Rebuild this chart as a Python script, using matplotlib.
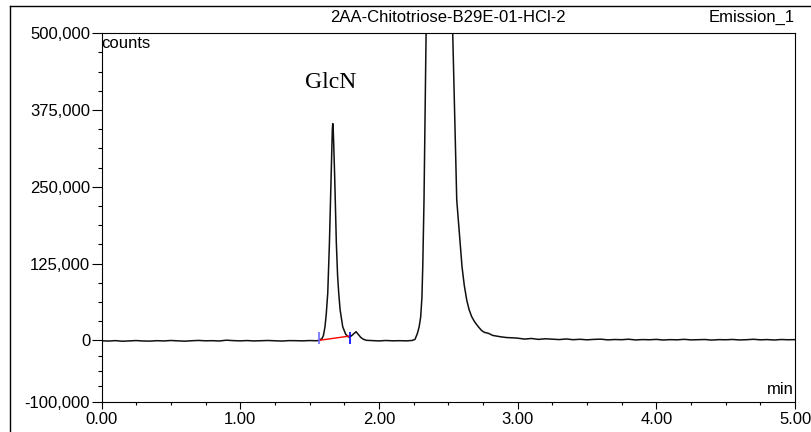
import matplotlib
matplotlib.use("Agg")
import matplotlib.pyplot as plt
from matplotlib.lines import Line2D
from matplotlib.ticker import FuncFormatter, FixedLocator

# chromatogram trace (time in min, signal in counts)
baseline_left_t = [0.00, 0.05, 0.10, 0.15, 0.20, 0.25, 0.30, 0.35, 0.40, 0.45,
                   0.50, 0.55, 0.60, 0.65, 0.70, 0.75, 0.80, 0.85, 0.90, 0.95,
                   1.00, 1.05, 1.10, 1.15, 1.20, 1.25, 1.30, 1.35, 1.40, 1.45,
                   1.50, 1.55]
baseline_left_y = [-800, -1200, -500, -1500, -900, -400, -1100, -1300, -600, -1000,
                   -300, -900, -1400, -700, -200, -800, -600, -1100, 200, -500,
                   -900, -400, -1000, -700, -300, -800, -1200, -500, -600, -900,
                   -400, -700]

glcn_t = [1.57, 1.59, 1.60, 1.611, 1.62, 1.631, 1.643, 1.655, 1.660, 1.664,
          1.667, 1.670, 1.674, 1.681, 1.693, 1.702, 1.710, 1.72, 1.739, 1.76,
          1.78, 1.80, 1.82, 1.835, 1.85, 1.87, 1.89, 1.91]
glcn_y = [0, 3000, 8000, 22000, 42000, 77000, 158000, 266000, 315000, 343000,
          353000, 345000, 320000, 266000, 158000, 105000, 77000, 50000, 22000, 10000,
          5500, 7000, 11000, 14000, 10000, 4500, 1500, 0]

middle_t = [1.95, 2.00, 2.05, 2.10, 2.15, 2.20, 2.24]
middle_y = [-500, -1000, -300, -800, -600, -900, -200]

big_t = [2.26, 2.277, 2.29, 2.301, 2.31, 2.316, 2.325, 2.34, 2.36, 2.43,
         2.50, 2.532, 2.561, 2.58, 2.599, 2.615, 2.633, 2.65, 2.669, 2.69,
         2.717, 2.74, 2.76, 2.789, 2.82, 2.873, 2.92, 2.97]
big_y = [1500, 11000, 22000, 38000, 70000, 120000, 228500, 500000, 1000000, 1600000,
         1000000, 500000, 228500, 174000, 120000, 90000, 65600, 50000, 38400, 30000,
         22000, 16000, 13000, 11400, 8000, 5900, 4500, 4000]

baseline_right_t = [3.00, 3.05, 3.10, 3.15, 3.20, 3.25, 3.30, 3.35, 3.40, 3.45,
                    3.50, 3.55, 3.60, 3.65, 3.70, 3.75, 3.80, 3.85, 3.90, 3.95,
                    4.00, 4.05, 4.10, 4.15, 4.20, 4.25, 4.30, 4.35, 4.40, 4.45,
                    4.50, 4.55, 4.60, 4.65, 4.70, 4.75, 4.80, 4.85, 4.90, 4.95,
                    5.00]
baseline_right_y = [3500, 2000, 3000, 1500, 2500, 1800, 1200, 2200, 1000, 1700,
                    800, 1500, 1900, 700, 1300, 1000, 1800, 600, 1200, 900,
                    1500, 500, 1100, 800, 1600, 700, 1000, 1300, 400, 1100,
                    900, 1400, 600, 1000, 1700, 800, 1200, 500, 1300, 900,
                    1100]

# integration baseline of the GlcN peak
integ_t = [1.57, 1.79]
integ_y = [0, 7000]

x_major = [0, 1, 2, 3, 4, 5]
y_major = [-100000, 0, 125000, 250000, 375000, 500000]

t = baseline_left_t + glcn_t + middle_t + big_t + baseline_right_t
y = baseline_left_y + glcn_y + middle_y + big_y + baseline_right_y

plt.rcParams['font.family'] = ['Liberation Sans', 'DejaVu Sans']

fig = plt.figure(figsize=(8.11, 4.32), dpi=100)
ax = fig.add_axes([0.1252, 0.0701, 0.8551, 0.8528])

ax.plot(t, y, color='#101010', lw=1.1)
ax.plot(integ_t, integ_y, color='red', lw=1.0)
ax.plot(integ_t[0], integ_y[0] + 3500, marker='|', color='#6a6aff', ms=8, mew=1.2)
ax.plot(integ_t[1], integ_y[1] - 3000, marker='|', color='blue', ms=8, mew=1.2)

ax.set_xlim(0, 5)
ax.set_ylim(-100000, 500000)

ax.xaxis.set_major_locator(FixedLocator(x_major))
ax.xaxis.set_minor_locator(FixedLocator([i * 0.25 for i in range(21) if i % 4]))
ax.yaxis.set_major_locator(FixedLocator(y_major))
ax.yaxis.set_minor_locator(FixedLocator([-75000, -50000, -25000] +
                                        [k * 31250 for k in range(1, 16) if k % 4]))
ax.xaxis.set_major_formatter(FuncFormatter(lambda v, p: f"{v:.2f}"))
ax.yaxis.set_major_formatter(FuncFormatter(lambda v, p: f"{int(v):,}"))

ax.tick_params(axis='x', which='major', direction='out', length=5, width=0.8,
               labelsize=12, pad=2.5)
ax.tick_params(axis='x', which='minor', direction='out', length=2.5, width=0.8)
ax.tick_params(axis='y', which='major', direction='out', length=7.2, width=0.8,
               labelsize=12, pad=1)
ax.tick_params(axis='y', which='minor', direction='out', length=3, width=0.8)
for s in ax.spines.values():
    s.set_linewidth(0.8)

ax.text(0.0, 0.992, "counts", transform=ax.transAxes, ha='left', va='top', fontsize=12)
ax.text(0.998, 0.012, "min", transform=ax.transAxes, ha='right', va='bottom', fontsize=12)
ax.text(1.655, 402000, "GlcN", ha='center', va='bottom', fontsize=17,
        family=['Liberation Serif', 'DejaVu Serif'])

fig.text(447.6 / 811, 1 - 17 / 432, "2AA-Chitotriose-B29E-01-HCl-2",
         ha='center', va='center', fontsize=12)
fig.text(795 / 811, 1 - 17 / 432, "Emission_1", ha='right', va='center', fontsize=12)

# outer frame of the report
fig.add_artist(Line2D([10 / 811, 10 / 811], [0, 1 - 6 / 432], color='black', lw=1.0))
fig.add_artist(Line2D([10 / 811, 1], [1 - 6 / 432, 1 - 6 / 432], color='black', lw=1.0))

fig.savefig("out.png", dpi=100)
